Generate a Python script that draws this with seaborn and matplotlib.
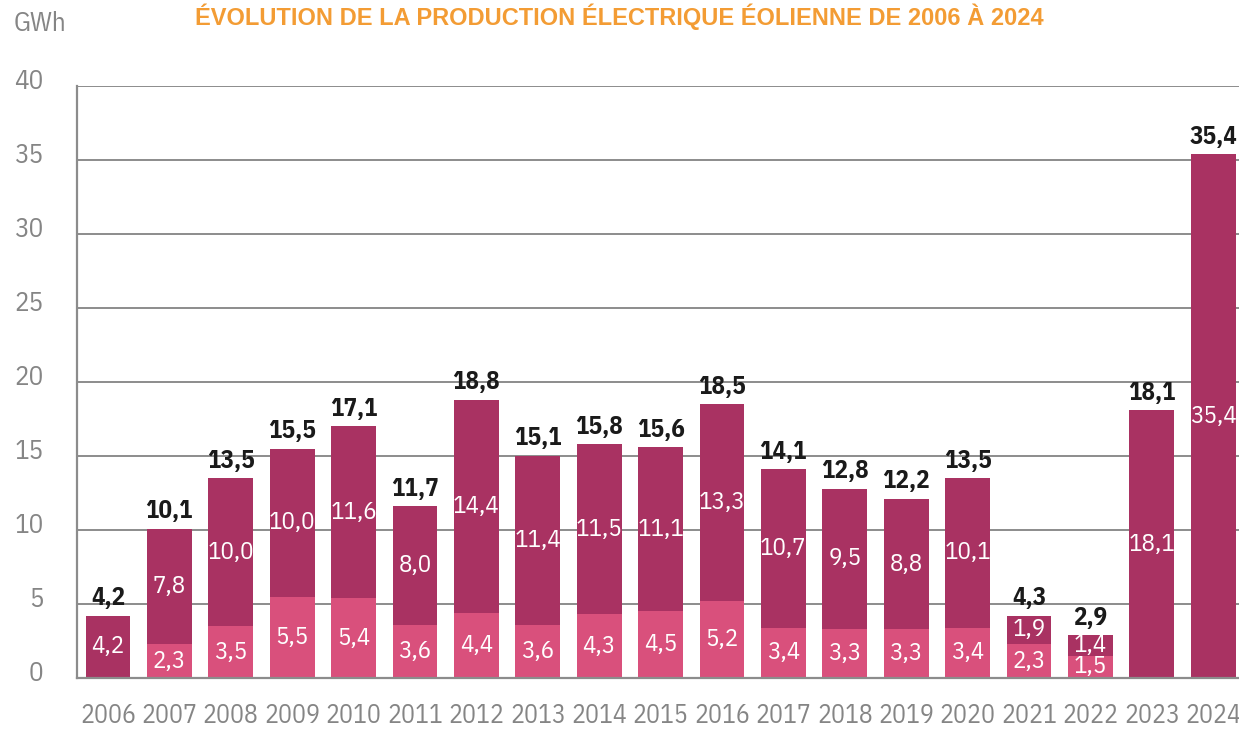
import numpy as np
import pandas as pd
import matplotlib
matplotlib.use("Agg")
import matplotlib.pyplot as plt
from matplotlib.ticker import FixedLocator
from matplotlib.transforms import ScaledTranslation
import seaborn as sns

# Wind power production (GWh) per year, split in two components
years = ["2006", "2007", "2008", "2009", "2010", "2011", "2012", "2013", "2014", "2015",
         "2016", "2017", "2018", "2019", "2020", "2021", "2022", "2023", "2024"]
light_part = [0.0, 2.3, 3.5, 5.5, 5.4, 3.6, 4.4, 3.6, 4.3, 4.5,
              5.2, 3.4, 3.3, 3.3, 3.4, 2.3, 1.5, 0.0, 0.0]
dark_part = [4.2, 7.8, 10.0, 10.0, 11.6, 8.0, 14.4, 11.4, 11.5, 11.1,
             13.3, 10.7, 9.5, 8.8, 10.1, 1.9, 1.4, 18.1, 35.4]
totals = [4.2, 10.1, 13.5, 15.5, 17.1, 11.7, 18.8, 15.1, 15.8, 15.6,
          18.5, 14.1, 12.8, 12.2, 13.5, 4.3, 2.9, 18.1, 35.4]
y_ticks = [0, 5, 10, 15, 20, 25, 30, 35, 40]

DARK = "#A93262"
LIGHT = "#D9507C"
GREY = "#8C8C8C"
TEXT_GREY = "#858585"
ORANGE = "#F39C34"

sns.set_theme(style="white")
COND = ["IBM Plex Sans Condensed", "DejaVu Sans"]
plt.rcParams["font.family"] = COND

df = pd.DataFrame({"year": years, "light": light_part, "dark": dark_part, "total": totals})
df["stack"] = df["light"] + df["dark"]

fig = plt.figure(figsize=(12.39, 7.30), dpi=100)
ax = fig.add_axes([0.0621, 0.0712, 0.9379, 0.8110])

sns.barplot(data=df, x="year", y="stack", color=DARK, width=0.73, saturation=1,
            ax=ax, zorder=3, linewidth=0)
sns.barplot(data=df, x="year", y="light", color=LIGHT, width=0.73, saturation=1,
            ax=ax, zorder=4, linewidth=0)

ax.set_xlim(-0.505, 18.42)
ax.set_ylim(0, 40)
ax.set_yticks(y_ticks)
ax.set_yticklabels([str(v) for v in y_ticks])
ax.set_xlabel("")
ax.set_ylabel("")

# horizontal grid
for v in y_ticks[1:]:
    ax.axhline(v, color=GREY, lw=1.4, zorder=1)

for side in ["top", "right"]:
    ax.spines[side].set_visible(False)
for side in ["left", "bottom"]:
    ax.spines[side].set_color(GREY)
    ax.spines[side].set_linewidth(1.6)
    ax.spines[side].set_zorder(5)

ax.tick_params(axis="y", length=0, pad=24, labelsize=19.5, labelcolor=TEXT_GREY)
ax.tick_params(axis="x", length=0, pad=18, labelsize=18.5, labelcolor=TEXT_GREY)
ax.xaxis.set_minor_locator(FixedLocator(np.arange(len(years) - 1) + 0.5))
ax.tick_params(axis="x", which="minor", direction="in", length=6, width=1.5, color=GREY)

# y labels sit slightly above their grid line
lift = ScaledTranslation(0, 7 / 100, fig.dpi_scale_trans)
for lab in ax.get_yticklabels():
    lab.set_transform(lab.get_transform() + lift)

# segment value labels
for i, (lo, hi) in enumerate(zip(light_part, dark_part)):
    if lo > 0:
        ax.text(i, lo / 2, f"{lo:.1f}".replace(".", ","), ha="center", va="center",
                color="white", fontsize=18, zorder=6)
    ax.text(i, lo + hi / 2, f"{hi:.1f}".replace(".", ","), ha="center", va="center",
            color="white", fontsize=18, zorder=6)

# totals above bars
for i, (t, s) in enumerate(zip(totals, df["stack"])):
    ax.annotate(f"{t:.1f}".replace(".", ","), xy=(i, s), xytext=(0, 4),
                textcoords="offset points", ha="center", va="bottom",
                fontsize=18, fontweight="bold", color="#1A1A1A", zorder=6)

fig.text(0.011, 0.968, "GWh", ha="left", va="center", fontsize=19.5, color=TEXT_GREY)
fig.text(0.50, 0.977, "ÉVOLUTION DE LA PRODUCTION ÉLECTRIQUE ÉOLIENNE DE 2006 À 2024",
         ha="center", va="center", fontsize=17, fontweight="bold", color=ORANGE,
         family=["Liberation Sans", "DejaVu Sans"])

fig.savefig("out.png", dpi=100)
